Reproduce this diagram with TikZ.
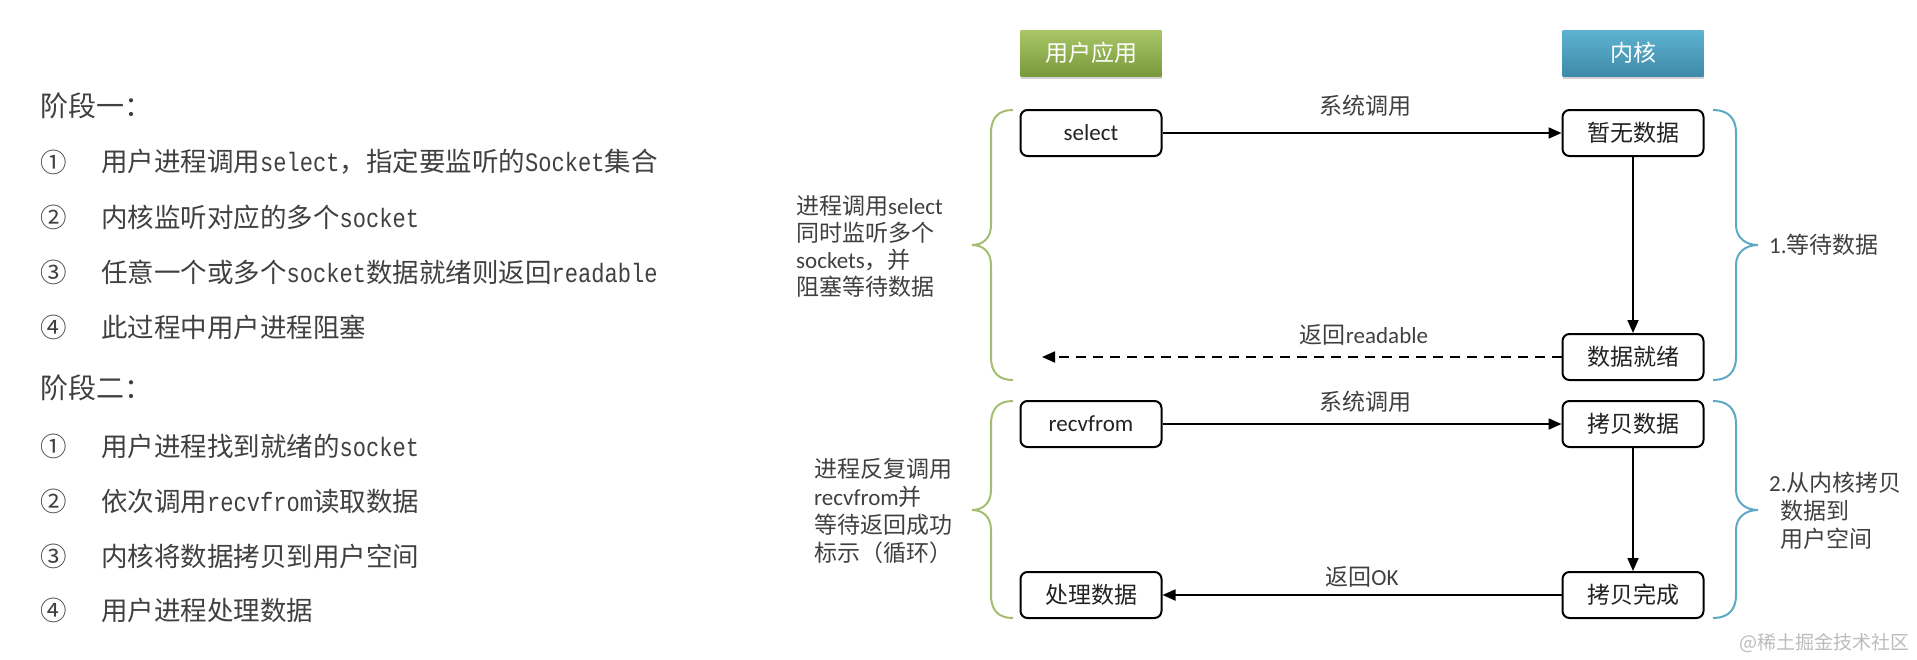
\documentclass[tikz,border=0pt]{standalone}
\usepackage{fontspec}
\setmainfont{Carlito}
\newfontfamily\cjk{Noto Sans CJK SC}
\newfontfamily\monolat{Liberation Mono}[FakeStretch=0.83]
\usetikzlibrary{arrows.meta,shadows}
\definecolor{txt}{HTML}{404040}
\definecolor{boxtxt}{HTML}{222222}
\definecolor{gtop}{HTML}{A9C667}
\definecolor{gbot}{HTML}{789A3A}
\definecolor{btop}{HTML}{5DB3D1}
\definecolor{bbot}{HTML}{3F8AA8}
\definecolor{gbrace}{HTML}{A4BE70}
\definecolor{bbrace}{HTML}{5DA8C4}
\definecolor{wmark}{HTML}{BBBBBB}
\newcommand\zh[1]{{\cjk #1}}
\newcommand\lm[1]{{\monolat\fontsize{26.6}{30}\selectfont #1}}
\begin{document}
\begin{tikzpicture}[x=1pt,y=-1pt,
  leftline/.style={anchor=west,inner sep=0pt,text=txt,font=\cjk\fontsize{26.5}{30}\selectfont},
  stagehead/.style={anchor=west,inner sep=0pt,text=txt,font=\cjk\fontsize{28}{32}\selectfont},
  header/.style={minimum width=141pt,minimum height=46pt,inner sep=0pt,text=white,font=\cjk\fontsize{23}{27}\selectfont,drop shadow={opacity=0.35,shadow xshift=0pt,shadow yshift=-3pt}},
  stepbox/.style={draw=black,line width=2pt,rounded corners=7pt,minimum width=141pt,minimum height=46pt,inner sep=0pt,fill=white,text=boxtxt,font=\fontsize{23}{27}\selectfont},
  lbl/.style={inner sep=0pt,text=txt,font=\fontsize{23}{27}\selectfont},
  arr/.style={line width=1.8pt,-{Triangle[length=13pt,width=11pt]}},
  bracel/.style={line width=2pt,draw=gbrace},
  bracer/.style={line width=2pt,draw=bbrace}
]
\useasboundingbox (0,0) rectangle (1917,659);

% left column
\node[stagehead] (s1) at (40,106) {阶段一：};
\node[leftline] (n11) at (40,162) {①};
\node[leftline] (t11) at (101,162) {用户进程调用\lm{select}，指定要监听的\lm{Socket}集合};
\node[leftline] (n12) at (40,217) {②};
\node[leftline] (t12) at (101,217) {内核监听对应的多个\lm{socket}};
\node[leftline] (n13) at (40,272) {③};
\node[leftline] (t13) at (101,272) {任意一个或多个\lm{socket}数据就绪则返回\lm{readable}};
\node[leftline] (n14) at (40,327) {④};
\node[leftline] (t14) at (101,327) {此过程中用户进程阻塞};
\node[stagehead] (s2) at (40,388) {阶段二：};
\node[leftline] (n21) at (40,446) {①};
\node[leftline] (t21) at (101,446) {用户进程找到就绪的\lm{socket}};
\node[leftline] (n22) at (40,501) {②};
\node[leftline] (t22) at (101,501) {依次调用\lm{recvfrom}读取数据};
\node[leftline] (n23) at (40,556) {③};
\node[leftline] (t23) at (101,556) {内核将数据拷贝到用户空间};
\node[leftline] (n24) at (40,610) {④};
\node[leftline] (t24) at (101,610) {用户进程处理数据};

% headers
\node[header,top color=gtop,bottom color=gbot] (hu) at (1091,53) {用户应用};
\node[header,top color=btop,bottom color=bbot] (hk) at (1633,53) {内核};

% step boxes
\node[stepbox] (sel) at (1091,133) {select};
\node[stepbox] (nodata) at (1633,133) {\zh{暂无数据}};
\node[stepbox] (ready) at (1633,357) {\zh{数据就绪}};
\node[stepbox] (recv) at (1091,424) {recvfrom};
\node[stepbox] (copy) at (1633,424) {\zh{拷贝数据}};
\node[stepbox] (done) at (1633,595) {\zh{拷贝完成}};
\node[stepbox] (proc) at (1091,595) {\zh{处理数据}};
\coordinate (rdend) at (1042,357);

% connectors
\draw[arr] (sel) -- (nodata);
\draw[arr] (nodata) -- (ready);
\draw[arr,dash pattern=on 10pt off 7pt] (ready) -- (rdend);
\draw[arr] (recv) -- (copy);
\draw[arr] (copy) -- (done);
\draw[arr] (done) -- (proc);

% connector labels
\node[lbl] (sc1) at (1365,106) {\zh{系统调用}};
\node[lbl] (rr) at (1364,335) {\zh{返回}readable};
\node[lbl] (sc2) at (1365,402) {\zh{系统调用}};
\node[lbl] (rok) at (1362,577) {\zh{返回}OK};

% side notes
\node[lbl,anchor=west,align=left] (la1) at (796,246) {\zh{进程调用}select\\\zh{同时监听多个}\\sockets\zh{，并}\\\zh{阻塞等待数据}};
\node[lbl,anchor=west,align=left,font=\fontsize{23}{28}\selectfont] (la2) at (814,511) {\zh{进程反复调用}\\recvfrom\zh{并}\\\zh{等待返回成功}\\\zh{标示（循环）}};
\node[lbl,anchor=west] (w1) at (1769,245) {1.\zh{等待数据}};
\node[lbl,anchor=west,align=left,font=\fontsize{23}{28}\selectfont] (w2) at (1769,511) {2.\zh{从内核拷贝}\\\hspace*{11pt}\zh{数据到}\\\hspace*{11pt}\zh{用户空间}};

% braces
\draw[bracel] (1013,110) .. controls (999,110) and (991,117) .. (991,133) -- (991,225) .. controls (991,238) and (983,245) .. (972,245) .. controls (983,245) and (991,252) .. (991,265) -- (991,357) .. controls (991,373) and (999,380) .. (1013,380);
\draw[bracel] (1013,401) .. controls (999,401) and (991,408) .. (991,424) -- (991,490) .. controls (991,503) and (983,510) .. (972,510) .. controls (983,510) and (991,517) .. (991,530) -- (991,595) .. controls (991,611) and (999,618) .. (1013,618);
\draw[bracer] (1713,110) .. controls (1727,110) and (1736,117) .. (1736,133) -- (1736,225) .. controls (1736,238) and (1746,245) .. (1758,245) .. controls (1746,245) and (1736,252) .. (1736,265) -- (1736,357) .. controls (1736,373) and (1727,380) .. (1713,380);
\draw[bracer] (1713,401) .. controls (1727,401) and (1736,408) .. (1736,424) -- (1736,490) .. controls (1736,503) and (1746,510) .. (1758,510) .. controls (1746,510) and (1736,517) .. (1736,530) -- (1736,595) .. controls (1736,611) and (1727,618) .. (1713,618);

% watermark
\node[anchor=east,inner sep=0pt,text=wmark,font=\cjk\fontsize{19}{22}\selectfont] (wm) at (1910,643) {@稀土掘金技术社区};
\end{tikzpicture}
\end{document}
